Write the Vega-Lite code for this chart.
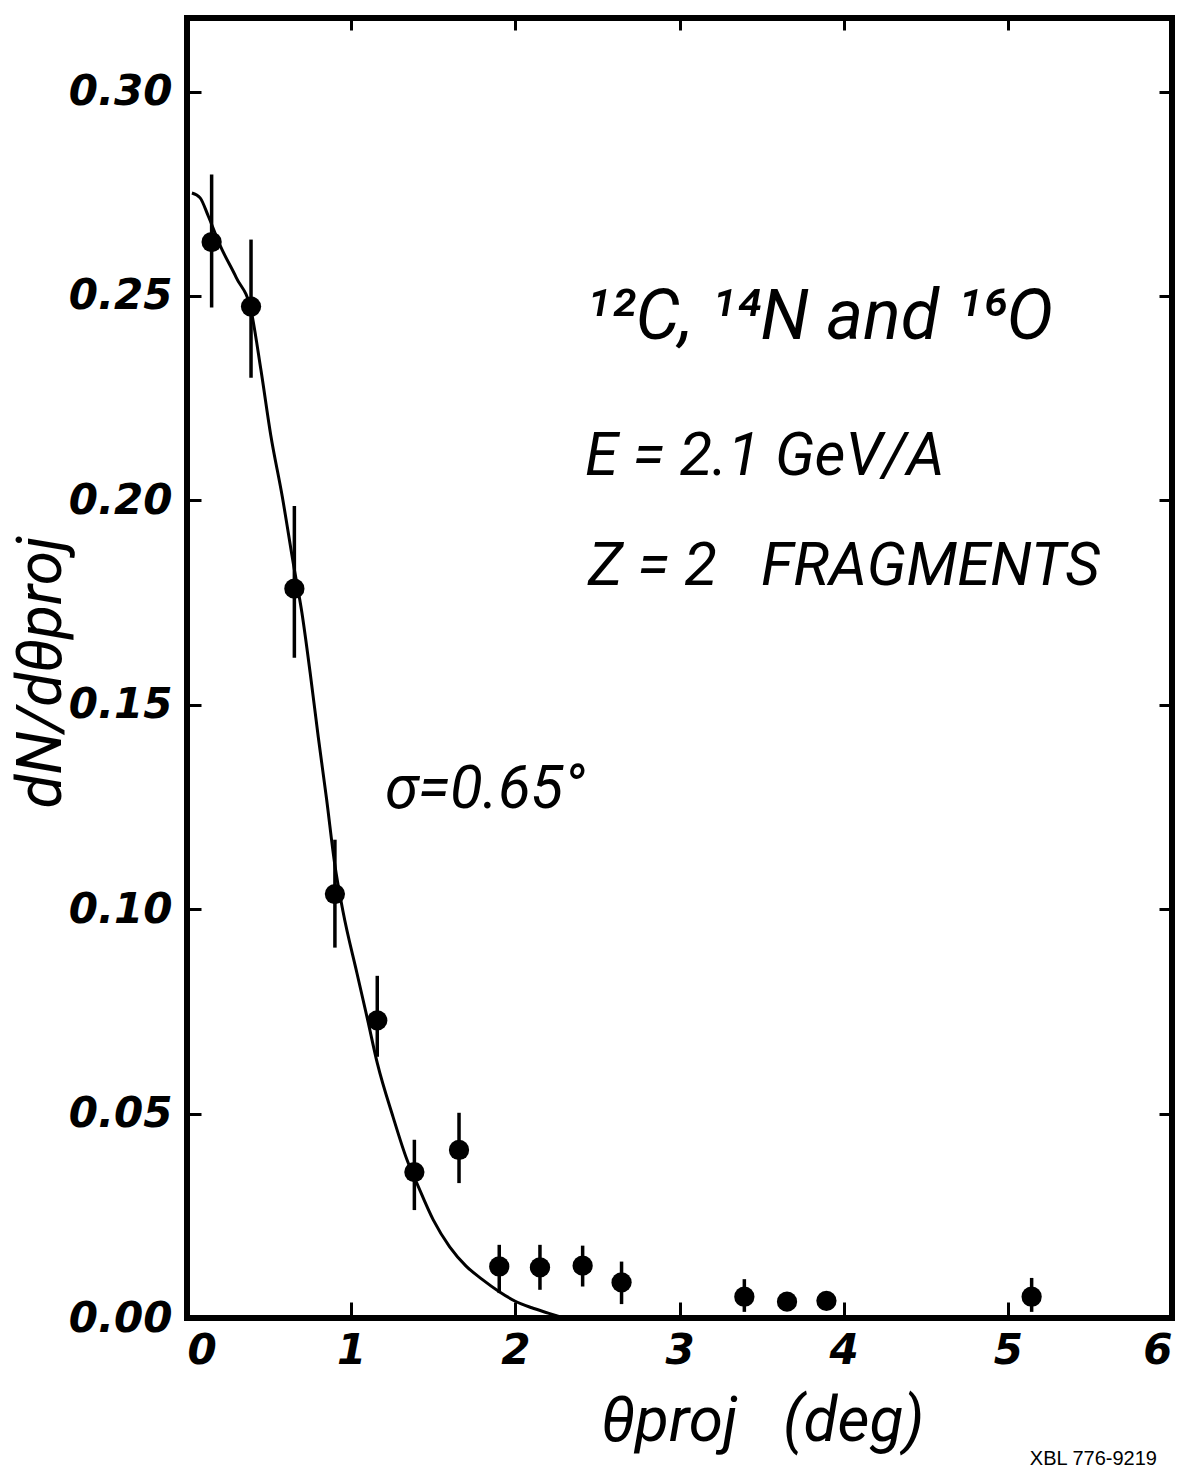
{
  "$schema": "https://vega.github.io/schema/vega-lite/v6.json",
  "width": 985,
  "height": 1300,
  "autosize": {"type": "none"},
  "padding": {"left": 187, "top": 18, "right": 27, "bottom": 154},
  "background": "white",
  "config": {
    "view": {"stroke": "black", "strokeWidth": 6},
    "axis": {
      "domain": false,
      "grid": false,
      "tickColor": "black",
      "tickWidth": 3,
      "labelColor": "black",
      "labelFont": "DejaVu Sans",
      "labelFontStyle": "italic",
      "labelFontWeight": "bold",
      "labelFontSize": 42,
      "titleColor": "black",
      "titleFont": "Roboto",
      "titleFontStyle": "italic",
      "titleFontWeight": "normal",
      "titleFontSize": 62
    }
  },
  "datasets": {
    "pts": [
      {"x": 0.150, "y": 0.2632, "lo": 0.2472, "hi": 0.2797},
      {"x": 0.390, "y": 0.2474, "lo": 0.2300, "hi": 0.2638},
      {"x": 0.654, "y": 0.1784, "lo": 0.1615, "hi": 0.1986},
      {"x": 0.901, "y": 0.1037, "lo": 0.0906, "hi": 0.1170},
      {"x": 1.159, "y": 0.0728, "lo": 0.0639, "hi": 0.0837},
      {"x": 1.385, "y": 0.0357, "lo": 0.0264, "hi": 0.0436},
      {"x": 1.657, "y": 0.0411, "lo": 0.0330, "hi": 0.0502},
      {"x": 1.902, "y": 0.0126, "lo": 0.0061, "hi": 0.0179},
      {"x": 2.150, "y": 0.0124, "lo": 0.0069, "hi": 0.0179},
      {"x": 2.410, "y": 0.0128, "lo": 0.0077, "hi": 0.0177},
      {"x": 2.647, "y": 0.0087, "lo": 0.0034, "hi": 0.0138},
      {"x": 3.395, "y": 0.0052, "lo": 0.0015, "hi": 0.0095},
      {"x": 3.655, "y": 0.0040, "lo": null, "hi": null},
      {"x": 3.895, "y": 0.0042, "lo": null, "hi": null},
      {"x": 5.145, "y": 0.0052, "lo": 0.0015, "hi": 0.0098}
    ],
    "curve": [
      {"x": 0.030, "y": 0.2752},
      {"x": 0.080, "y": 0.2740},
      {"x": 0.130, "y": 0.2695},
      {"x": 0.200, "y": 0.2625},
      {"x": 0.300, "y": 0.2545},
      {"x": 0.390, "y": 0.2465},
      {"x": 0.450, "y": 0.2320},
      {"x": 0.510, "y": 0.2160},
      {"x": 0.580, "y": 0.2010},
      {"x": 0.650, "y": 0.1840},
      {"x": 0.700, "y": 0.1725},
      {"x": 0.750, "y": 0.1579},
      {"x": 0.800, "y": 0.1420},
      {"x": 0.850, "y": 0.1270},
      {"x": 0.900, "y": 0.1110},
      {"x": 0.950, "y": 0.0995},
      {"x": 1.035, "y": 0.0844},
      {"x": 1.100, "y": 0.0730},
      {"x": 1.160, "y": 0.0622},
      {"x": 1.255, "y": 0.0492},
      {"x": 1.340, "y": 0.0387},
      {"x": 1.400, "y": 0.0330},
      {"x": 1.500, "y": 0.0240},
      {"x": 1.600, "y": 0.0174},
      {"x": 1.700, "y": 0.0127},
      {"x": 1.800, "y": 0.0094},
      {"x": 1.900, "y": 0.0065},
      {"x": 2.000, "y": 0.0041},
      {"x": 2.100, "y": 0.0025},
      {"x": 2.200, "y": 0.0012},
      {"x": 2.270, "y": 0.0003}
    ]
  },
  "resolve": {"axis": {"x": "independent", "y": "independent"}},
  "layer": [
    {
      "data": {"name": "pts"},
      "transform": [{"filter": "datum.lo != null"}],
      "mark": {"type": "rule", "color": "black", "strokeWidth": 3.5},
      "encoding": {
        "x": {"field": "x", "type": "quantitative",
              "scale": {"domain": [0, 6], "nice": false, "zero": false},
              "axis": {"orient": "top", "values": [1, 2, 3, 4, 5], "labels": false, "title": null, "tickSize": -12}},
        "y": {"field": "lo", "type": "quantitative",
              "scale": {"domain": [0, 0.318], "nice": false, "zero": false},
              "axis": {"orient": "right", "values": [0.05, 0.1, 0.15, 0.2, 0.25, 0.3], "labels": false, "title": null, "tickSize": -13}},
        "y2": {"field": "hi"}
      }
    },
    {
      "data": {"name": "curve"},
      "mark": {"type": "line", "color": "black", "strokeWidth": 3, "interpolate": "monotone"},
      "encoding": {
        "x": {"field": "x", "type": "quantitative",
              "axis": {"orient": "bottom", "values": [0, 1, 2, 3, 4, 5, 6], "format": "d", "tickSize": -16, "labelPadding": 28,
                       "title": "θproj\u00a0\u00a0\u00a0(deg)", "titleX": 575, "titleY": 122, "titleAlign": "center", "titleBaseline": "alphabetic"}},
        "y": {"field": "y", "type": "quantitative",
              "axis": {"orient": "left", "values": [0, 0.05, 0.1, 0.15, 0.2, 0.25, 0.3], "format": ".2f", "tickSize": -14, "labelPadding": 29,
                       "title": "dN/dθproj", "titleX": -146, "titleY": 654, "titleAngle": -90, "titleAlign": "center", "titleBaseline": "middle"}}
      }
    },
    {
      "data": {"name": "pts"},
      "mark": {"type": "point", "filled": true, "shape": "circle", "color": "black", "opacity": 1, "size": 410},
      "encoding": {
        "x": {"field": "x", "type": "quantitative", "axis": null},
        "y": {"field": "y", "type": "quantitative", "axis": null}
      }
    },
    {
      "data": {"values": [{"x": 2.424, "y": 0.2394, "t": "¹²C, ¹⁴N and ¹⁶O"}]},
      "mark": {"type": "text", "font": "Roboto", "fontStyle": "italic", "fontSize": 70, "align": "left", "baseline": "alphabetic", "color": "black"},
      "encoding": {
        "x": {"field": "x", "type": "quantitative", "axis": null},
        "y": {"field": "y", "type": "quantitative", "axis": null},
        "text": {"field": "t"}
      }
    },
    {
      "data": {"values": [
        {"x": 2.424, "y": 0.2063, "t": "E = 2.1 GeV/A"},
        {"x": 2.442, "y": 0.1794, "t": "Z = 2\u00a0\u00a0\u00a0FRAGMENTS"}
      ]},
      "mark": {"type": "text", "font": "Roboto", "fontStyle": "italic", "fontSize": 60, "align": "left", "baseline": "alphabetic", "color": "black"},
      "encoding": {
        "x": {"field": "x", "type": "quantitative", "axis": null},
        "y": {"field": "y", "type": "quantitative", "axis": null},
        "text": {"field": "t"}
      }
    },
    {
      "data": {"values": [{"x": 1.206, "y": 0.1248, "t": "σ=0.65°"}]},
      "mark": {"type": "text", "font": "Roboto", "fontStyle": "italic", "fontSize": 60, "align": "left", "baseline": "alphabetic", "color": "black"},
      "encoding": {
        "x": {"field": "x", "type": "quantitative", "axis": null},
        "y": {"field": "y", "type": "quantitative", "axis": null},
        "text": {"field": "t"}
      }
    },
    {
      "data": {"values": [{"x": 5.134, "y": -0.0360, "t": "XBL 776-9219"}]},
      "mark": {"type": "text", "font": "Liberation Sans", "fontSize": 20, "align": "left", "baseline": "alphabetic", "color": "black"},
      "encoding": {
        "x": {"field": "x", "type": "quantitative", "axis": null},
        "y": {"field": "y", "type": "quantitative", "axis": null},
        "text": {"field": "t"}
      }
    }
  ]
}
